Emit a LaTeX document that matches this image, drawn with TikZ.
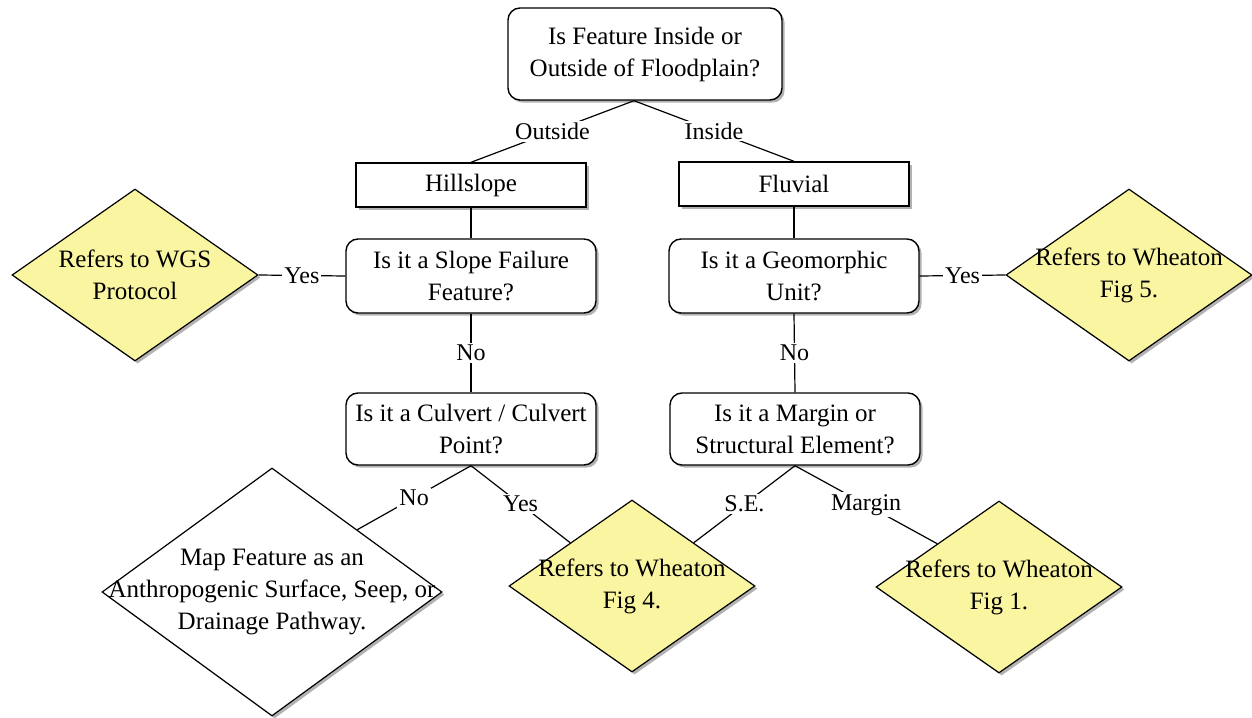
\documentclass[tikz,border=0pt]{standalone}
\usepackage{fontspec}
\setmainfont{Liberation Serif}
\usetikzlibrary{positioning,shapes.geometric,shadows}
\definecolor{refyellow}{RGB}{250,245,160}

\begin{document}
\begin{tikzpicture}[
    x=0.5pt, y=-0.5pt,
    font=\fontsize{12.5}{16}\selectfont,
    shade/.style={drop shadow={shadow xshift=1.3pt, shadow yshift=-1.3pt,
                  fill=black!60, opacity=0.5}},
    qbox/.style={shade, draw, fill=white, rounded corners=6pt, line width=0.7pt,
                 align=center, inner sep=0pt, minimum width=125pt, minimum height=37pt},
    catbox/.style={shade, draw, fill=white, line width=0.7pt,
                   minimum width=115pt, minimum height=22pt},
    refdia/.style={shade, draw, diamond, fill=refyellow, line width=0.6pt,
                   inner sep=0pt, minimum width=123pt, minimum height=86pt},
    dtext/.style={align=center},
    lbl/.style={fill=white, inner sep=1pt, font=\fontsize{12}{14}\selectfont},
    link/.style={line width=0.6pt}
]
\useasboundingbox (0,0) rectangle (1252,717);

\node[qbox, minimum width=137pt, minimum height=46pt] (flood) at (645,54) {Is Feature Inside or\\Outside of Floodplain?};
\coordinate (fork) at ([xshift=-5.5pt]flood.south);
\node[catbox] (hill) at (471,185) {Hillslope};
\node[catbox] (fluv) at (794,184) {Fluvial};
\node[qbox] (slope) at (471,276) {Is it a Slope Failure\\Feature?};
\node[qbox] (geo) at (794,276) {Is it a Geomorphic\\Unit?};
\node[qbox, minimum height=36pt] (culv) at (471,429) {Is it a Culvert / Culvert\\Point?};
\node[qbox, minimum height=36pt] (marg) at (795,429) {Is it a Margin or\\Structural Element?};

\node[refdia, label={[dtext]center:Refers to WGS\\Protocol}] (wgs) at (135,275) {};
\node[refdia, label={[dtext]center:Refers to Wheaton\\Fig 5.}] (fig5) at (1129,275) {};
\node[refdia, label={[dtext]center:Refers to Wheaton\\Fig 4.}] (fig4) at (632,586) {};
\node[refdia, label={[dtext]center:Refers to Wheaton\\Fig 1.}] (fig1) at (999,587) {};
\node[refdia, fill=white, minimum width=170pt, minimum height=124pt,
      label={[dtext]center:{Map Feature as an\\Anthropogenic Surface, Seep, or\\Drainage Pathway.}}] (mapf) at (272,592) {};

\draw[link] (fork) -- node[lbl]{Outside} (hill.north);
\draw[link] (fork) -- node[lbl]{Inside} (fluv.north);
\draw[link] (hill.south) -- (slope.north);
\draw[link] (fluv.south) -- (geo.north);
\draw[link] (slope.west) -- node[lbl]{Yes} (wgs.east);
\draw[link] (geo.east) -- node[lbl]{Yes} (fig5.west);
\draw[link] (slope.south) -- node[lbl]{No} (culv.north);
\draw[link] (geo.south) -- node[lbl]{No} (marg.north);
\draw[link] (culv.south) -- node[lbl]{No} (mapf.north east);
\draw[link] (culv.south) -- node[lbl]{Yes} (fig4.north west);
\draw[link] (marg.south) -- node[lbl]{S.E.} (fig4.north east);
\draw[link] (marg.south) -- node[lbl]{Margin} (fig1.north west);
\end{tikzpicture}
\end{document}
